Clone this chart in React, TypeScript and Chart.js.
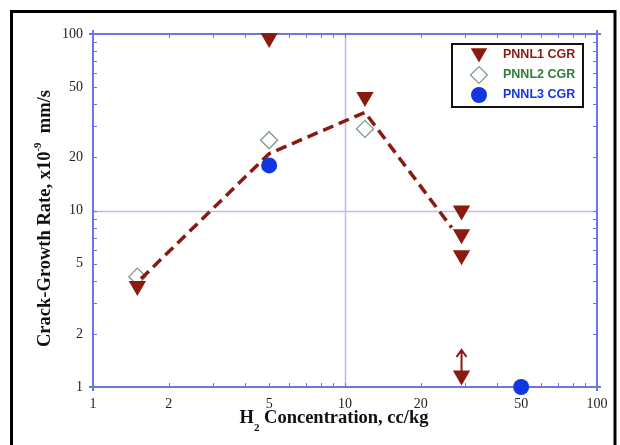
import { useEffect, useRef } from 'react';
import { Chart, registerables } from 'chart.js';
import { drawPoint } from 'chart.js/helpers';

Chart.register(...registerables);

// H2 concentration (cc/kg) vs crack-growth rate (x10^-9 mm/s)
const pnnl1X = [1.5, 5, 12, 29, 29, 29, 29];
const pnnl1Y = [3.74, 95, 44, 10, 7.33, 5.57, 1.16];
const pnnl2X = [1.5, 5, 12];
const pnnl2Y = [4.22, 25, 29];
const pnnl3X = [5, 50];
const pnnl3Y = [18, 1];
const trendX = [1.55, 5, 12, 26.5];
const trendY = [4.1, 21, 36, 8.0];

// upward arrow on the lowest PNNL1 point (lower-bound value)
const arrowX = 29;
const arrowFromY = 1.16;
const arrowToY = 1.62;

const seriesNames = ['PNNL1 CGR', 'PNNL2 CGR', 'PNNL3 CGR'];
const labelTicks = [1, 2, 5, 10, 20, 50, 100];
const minorTicks = [1, 2, 3, 4, 5, 6, 7, 8, 9, 10, 20, 30, 40, 50, 60, 70, 80, 90, 100];
const gridValues = [10];

const RED = '#8a1a10';
const GREEN_EDGE = '#7f9c86';
const BLUE = '#1236e2';
const FRAME = '#6d75e2';
const GRID = '#b9bdf2';

const pts = (xs: number[], ys: number[]) => xs.map((x, i) => ({ x, y: ys[i] }));

const framePlugin = {
  id: 'frameAndTicks',
  beforeDraw(chart: any) {
    const { ctx, width, height } = chart;
    ctx.save();
    ctx.fillStyle = '#ffffff';
    ctx.fillRect(0, 0, width, height);
    // outer black frame
    ctx.strokeStyle = '#000';
    ctx.lineWidth = 3;
    ctx.beginPath();
    ctx.moveTo(11.5, height + 5);
    ctx.lineTo(11.5, 11.5);
    ctx.lineTo(615, 11.5);
    ctx.lineTo(615, height + 5);
    ctx.stroke();
    ctx.restore();
  },
  beforeDatasetsDraw(chart: any) {
    const { ctx, chartArea: ca, scales } = chart;
    const xs = scales.x;
    const ys = scales.y;
    ctx.save();
    // decade grid lines
    ctx.strokeStyle = GRID;
    ctx.lineWidth = 1.5;
    gridValues.forEach((v) => {
      const px = Math.round(xs.getPixelForValue(v)) + 0.5;
      const py = Math.round(ys.getPixelForValue(v)) + 0.5;
      ctx.beginPath();
      ctx.moveTo(px, ca.top);
      ctx.lineTo(px, ca.bottom);
      ctx.moveTo(ca.left, py);
      ctx.lineTo(ca.right, py);
      ctx.stroke();
    });
    // inward tick marks on all four sides
    ctx.strokeStyle = FRAME;
    ctx.lineWidth = 1;
    const tl = 4;
    minorTicks.forEach((v) => {
      const px = Math.round(xs.getPixelForValue(v)) + 0.5;
      const py = Math.round(ys.getPixelForValue(v)) + 0.5;
      ctx.beginPath();
      ctx.moveTo(px, ca.bottom);
      ctx.lineTo(px, ca.bottom - tl);
      ctx.moveTo(px, ca.top);
      ctx.lineTo(px, ca.top + tl);
      ctx.moveTo(ca.left, py);
      ctx.lineTo(ca.left + tl, py);
      ctx.moveTo(ca.right, py);
      ctx.lineTo(ca.right - tl, py);
      ctx.stroke();
    });
    // plot frame, slightly overhanging at the corners
    ctx.lineWidth = 2;
    const e = 4;
    ctx.beginPath();
    ctx.moveTo(ca.left - e, ca.top);
    ctx.lineTo(ca.right + e, ca.top);
    ctx.moveTo(ca.left - e, ca.bottom);
    ctx.lineTo(ca.right + e, ca.bottom);
    ctx.moveTo(ca.left, ca.top - e);
    ctx.lineTo(ca.left, ca.bottom + e);
    ctx.moveTo(ca.right, ca.top - e);
    ctx.lineTo(ca.right, ca.bottom + e);
    ctx.stroke();

    // arrow marking the lower-bound point
    const ax = xs.getPixelForValue(arrowX);
    const ay0 = ys.getPixelForValue(arrowFromY);
    const ay1 = ys.getPixelForValue(arrowToY);
    ctx.strokeStyle = RED;
    ctx.lineWidth = 2;
    ctx.beginPath();
    ctx.moveTo(ax, ay0);
    ctx.lineTo(ax, ay1);
    ctx.moveTo(ax - 5, ay1 + 7);
    ctx.lineTo(ax, ay1);
    ctx.lineTo(ax + 5, ay1 + 7);
    ctx.stroke();
    ctx.restore();
  },
  afterDraw(chart: any) {
    const { ctx, chartArea: ca } = chart;
    ctx.save();
    // y-axis title with superscript exponent
    const big = 'bold 18.5px "Liberation Serif", serif';
    const small = 'bold 11px "Liberation Serif", serif';
    const yA = 'Crack-Growth Rate, x10';
    const yB = '-9';
    const yC = '  mm/s';
    ctx.font = big;
    const wA = ctx.measureText(yA).width;
    const wC = ctx.measureText(yC).width;
    ctx.font = small;
    const wB = ctx.measureText(yB).width;
    const total = wA + wB + wC;
    ctx.translate(50, (ca.top + ca.bottom) / 2 + 8);
    ctx.rotate(-Math.PI / 2);
    ctx.fillStyle = '#111';
    ctx.textBaseline = 'alphabetic';
    ctx.textAlign = 'left';
    let cx = -total / 2;
    ctx.font = big;
    ctx.fillText(yA, cx, 0);
    cx += wA;
    ctx.font = small;
    ctx.fillText(yB, cx, -9);
    cx += wB;
    ctx.font = big;
    ctx.fillText(yC, cx, 0);
    ctx.setTransform(1, 0, 0, 1, 0, 0);

    // x-axis title with subscript
    const xA = 'H';
    const xB = '2';
    const xC = ' Concentration, cc/kg';
    ctx.font = big;
    const xa = ctx.measureText(xA).width;
    const xc = ctx.measureText(xC).width;
    ctx.font = small;
    const xb = ctx.measureText(xB).width;
    let sx = 334 - (xa + xb + xc) / 2;
    const base = 423;
    ctx.font = big;
    ctx.fillText(xA, sx, base);
    sx += xa;
    ctx.font = small;
    ctx.fillText(xB, sx, base + 8);
    sx += xb;
    ctx.font = big;
    ctx.fillText(xC, sx, base);

    // legend box
    const lx = 452, ly = 44, lw = 131, lh = 63;
    ctx.fillStyle = '#fff';
    ctx.fillRect(lx, ly, lw, lh);
    ctx.strokeStyle = '#111';
    ctx.lineWidth = 2;
    ctx.strokeRect(lx, ly, lw, lh);
    const rows = [55, 75, 95];
    const textColors = [RED, '#2e7d3a', BLUE];
    const markerOpts = [
      { pointStyle: 'triangle', radius: 9.5, rotation: 180, borderWidth: 0, fill: RED, stroke: RED },
      { pointStyle: 'rectRot', radius: 8.5, rotation: 0, borderWidth: 1.2, fill: 'rgba(0,0,0,0)', stroke: GREEN_EDGE },
      { pointStyle: 'circle', radius: 8, rotation: 0, borderWidth: 0, fill: BLUE, stroke: BLUE },
    ];
    seriesNames.forEach((name, i) => {
      const m = markerOpts[i];
      const my = i === 0 ? rows[i] - 2 : rows[i];
      ctx.fillStyle = m.fill;
      ctx.strokeStyle = m.stroke;
      ctx.lineWidth = m.borderWidth;
      drawPoint(ctx, { pointStyle: m.pointStyle, radius: m.radius, rotation: m.rotation, borderWidth: m.borderWidth } as any, 479, my);
      ctx.fillStyle = textColors[i];
      ctx.font = 'bold 12.5px "Liberation Sans", Arial, sans-serif';
      ctx.textBaseline = 'middle';
      ctx.textAlign = 'left';
      ctx.fillText(name, 503, rows[i]);
    });
    ctx.restore();
  },
};

export default function App() {
  const canvasRef = useRef<HTMLCanvasElement | null>(null);

  useEffect(() => {
    const canvas = canvasRef.current;
    if (!canvas) return;
    const tickFont = { family: '"Liberation Serif", serif', size: 14 };
    const chart = new Chart(canvas, {
      type: 'scatter',
      data: {
        datasets: [
          {
            label: seriesNames[0],
            data: pts(pnnl1X, pnnl1Y),
            pointStyle: 'triangle',
            rotation: 180,
            radius: 10,
            backgroundColor: RED,
            borderColor: RED,
            borderWidth: 0,
            clip: false,
          },
          {
            label: seriesNames[2],
            data: pts(pnnl3X, pnnl3Y),
            pointStyle: 'circle',
            radius: 8,
            backgroundColor: BLUE,
            borderColor: BLUE,
            borderWidth: 0,
            clip: false,
          },
          {
            label: 'trend',
            type: 'line',
            data: pts(trendX, trendY),
            borderColor: RED,
            borderWidth: 3.5,
            borderDash: [11, 6],
            pointRadius: 0,
            fill: false,
            tension: 0,
          },
          {
            label: seriesNames[1],
            data: pts(pnnl2X, pnnl2Y),
            pointStyle: 'rectRot',
            radius: 8.5,
            backgroundColor: 'rgba(255,255,255,0)',
            borderColor: GREEN_EDGE,
            borderWidth: 1.3,
            clip: false,
          },
        ],
      },
      options: {
        animation: false,
        responsive: false,
        devicePixelRatio: 1,
        layout: { padding: { left: 0, top: 34, right: 23, bottom: 0 } },
        plugins: {
          legend: { display: false },
          tooltip: { enabled: false },
          title: { display: false },
        },
        scales: {
          x: {
            type: 'logarithmic',
            min: 1,
            max: 100,
            afterBuildTicks: (s: any) => {
              s.ticks = labelTicks.map((v) => ({ value: v }));
            },
            afterFit: (s: any) => {
              s.height = 58;
            },
            ticks: {
              callback: (v: any) => String(v),
              font: tickFont,
              color: '#222',
              padding: 9,
              maxRotation: 0,
              autoSkip: false,
            },
            grid: { display: false, drawTicks: false },
            border: { display: false },
          },
          y: {
            type: 'logarithmic',
            min: 1,
            max: 100,
            afterBuildTicks: (s: any) => {
              s.ticks = labelTicks.map((v) => ({ value: v }));
            },
            afterFit: (s: any) => {
              s.width = 93;
            },
            ticks: {
              callback: (v: any) => String(v),
              font: tickFont,
              color: '#222',
              padding: 10,
              autoSkip: false,
            },
            grid: { display: false, drawTicks: false },
            border: { display: false },
          },
        },
      },
      plugins: [framePlugin],
    } as any);
    return () => chart.destroy();
  }, []);

  return (
    <div style={{ position: 'absolute', left: 0, top: 0, width: 620, height: 445, background: '#fff' }}>
      <canvas ref={canvasRef} width={620} height={445} style={{ display: 'block' }} />
    </div>
  );
}
